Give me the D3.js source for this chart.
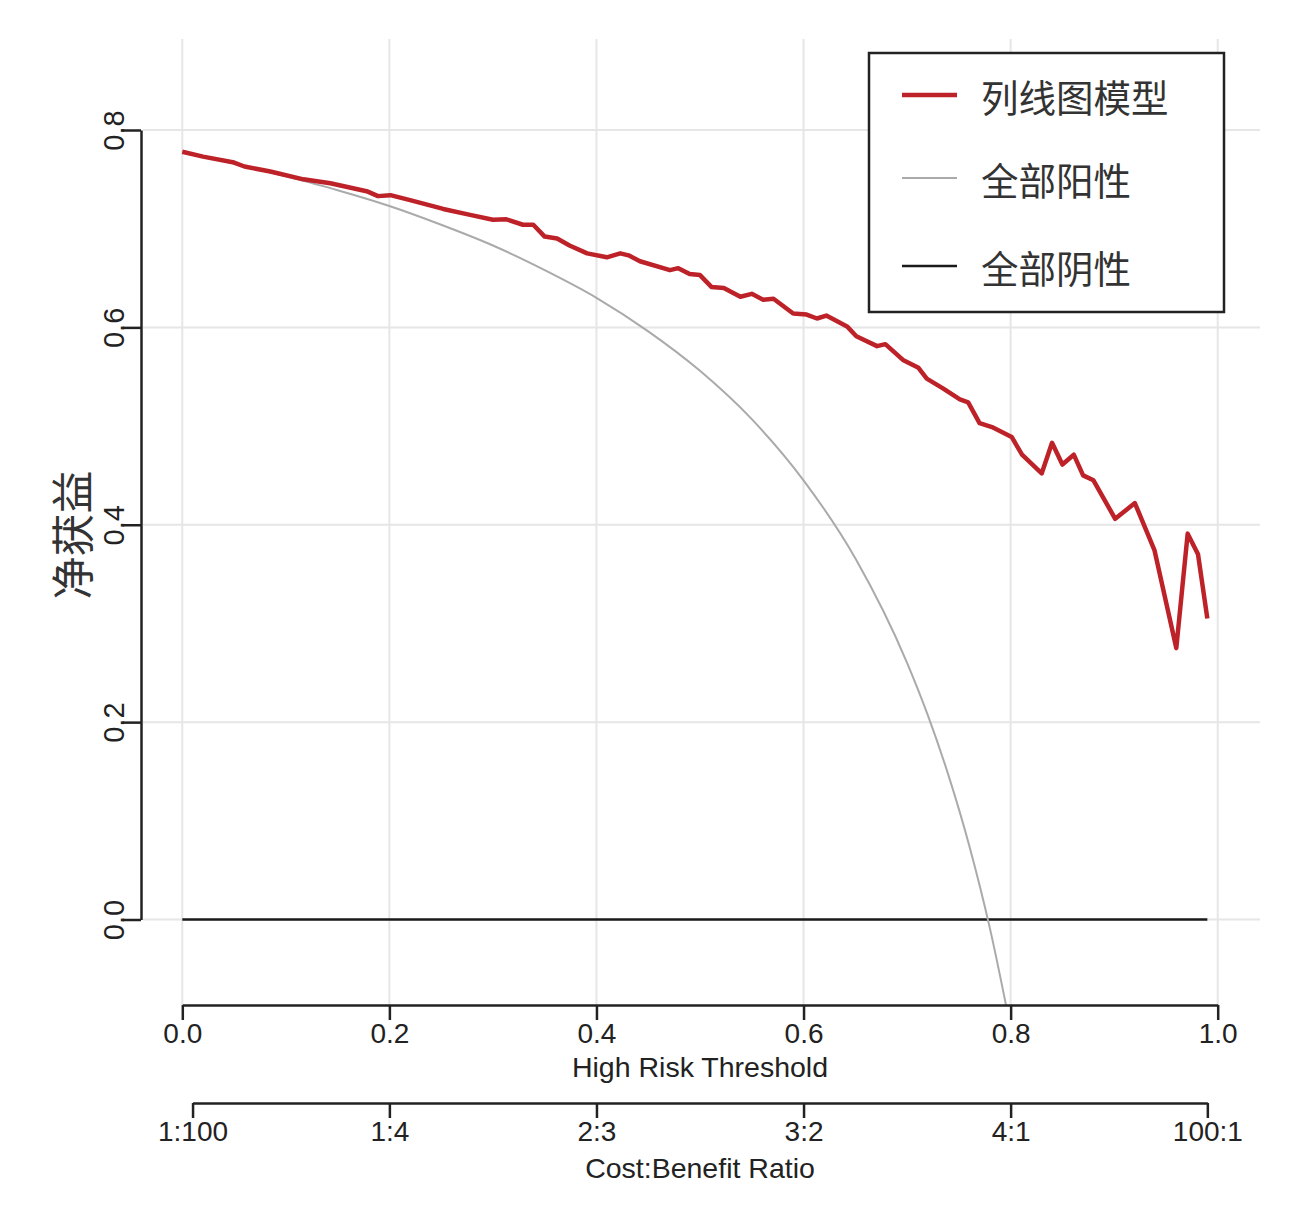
<html>
<head>
  <meta charset="utf-8">
  <title>DCA</title>
  <script src="https://d3js.org/d3.v7.min.js"></script>
  <style>
  body { margin: 0; background: #fff; }
  .grid line { stroke: #e6e6e6; stroke-width: 2px; }
  .axis path, .axis line { stroke: #222; stroke-width: 2.5px; }
  .axis text { font-family: "Liberation Sans", Arial, sans-serif; font-size: 28px; fill: #222; }
  .lab { font-family: "Liberation Sans", Arial, sans-serif; font-size: 28.5px; fill: #222; }
  .cjk { font-family: "Noto Sans CJK SC", sans-serif; fill: #333; }
  </style>
</head>
<body>
  <svg id="chart" width="1292" height="1211"></svg>
  <script>
// threshold probability / net benefit
const modelThreshold = [0, 0.02, 0.05, 0.06, 0.085, 0.117, 0.143, 0.178, 0.189, 0.201, 0.22, 0.252, 0.278, 0.30, 0.313, 0.329, 0.339, 0.35, 0.362, 0.374, 0.391, 0.41, 0.423, 0.431, 0.442, 0.471, 0.479, 0.49, 0.50, 0.511, 0.523, 0.539, 0.55, 0.561, 0.571, 0.59, 0.603, 0.613, 0.622, 0.642, 0.651, 0.671, 0.679, 0.696, 0.711, 0.719, 0.735, 0.751, 0.759, 0.77, 0.782, 0.801, 0.811, 0.83, 0.84, 0.85, 0.861, 0.87, 0.88, 0.901, 0.92, 0.939, 0.96, 0.971, 0.981, 0.99];
const modelNB = [0.778, 0.773, 0.767, 0.763, 0.758, 0.750, 0.746, 0.738, 0.733, 0.734, 0.729, 0.720, 0.714, 0.709, 0.7095, 0.704, 0.704, 0.692, 0.690, 0.683, 0.675, 0.671, 0.675, 0.673, 0.667, 0.658, 0.660, 0.654, 0.653, 0.641, 0.640, 0.631, 0.634, 0.628, 0.629, 0.614, 0.613, 0.609, 0.612, 0.601, 0.591, 0.581, 0.583, 0.567, 0.559, 0.548, 0.538, 0.527, 0.524, 0.503, 0.499, 0.489, 0.471, 0.452, 0.483, 0.461, 0.471, 0.450, 0.445, 0.406, 0.422, 0.374, 0.275, 0.391, 0.370, 0.305];

const allThreshold = [0, 0.05, 0.1, 0.15, 0.2, 0.25, 0.3, 0.35, 0.4, 0.45, 0.5, 0.55, 0.6, 0.65, 0.7, 0.72, 0.74, 0.76, 0.78, 0.8];
const allNB = [0.778, 0.766, 0.753, 0.739, 0.723, 0.704, 0.683, 0.658, 0.630, 0.596, 0.556, 0.507, 0.445, 0.366, 0.260, 0.207, 0.146, 0.075, -0.009, -0.110];

const noneThreshold = [0, 0.99];
const noneNB = [0, 0];

const xTicks = [0, 0.2, 0.4, 0.6, 0.8, 1.0];
const yTicks = [0, 0.2, 0.4, 0.6, 0.8];
const ratioTicks = [0.0099, 0.2, 0.4, 0.6, 0.8, 0.99];
const ratioLabels = ["1:100", "1:4", "2:3", "3:2", "4:1", "100:1"];
const legendLabels = ["列线图模型", "全部阳性", "全部阴性"];
const legendColors = ["#be2229", "#aaaaaa", "#1a1a1a"];
const legendWidths = [4.5, 2, 2.5];

const svg = d3.select("#chart");
const x = d3.scaleLinear().domain([0, 1]).range([182.3, 1217.7]);
const y = d3.scaleLinear().domain([0, 0.8]).range([919.5, 130]);

const panel = { left: 143, right: 1260, top: 39, bottom: 1005 };

svg.append("clipPath").attr("id", "clip")
  .append("rect")
  .attr("x", panel.left).attr("y", panel.top)
  .attr("width", panel.right - panel.left)
  .attr("height", panel.bottom - panel.top);

// grid
const grid = svg.append("g").attr("class", "grid");
grid.selectAll(".gy").data(yTicks).enter().append("line")
  .attr("x1", panel.left).attr("x2", panel.right)
  .attr("y1", d => y(d)).attr("y2", d => y(d));
grid.selectAll(".gx").data(xTicks).enter().append("line")
  .attr("y1", panel.top).attr("y2", panel.bottom)
  .attr("x1", d => x(d)).attr("x2", d => x(d));

const line = d3.line().x(d => x(d[0])).y(d => y(d[1]));
const plot = svg.append("g").attr("clip-path", "url(#clip)");

plot.append("path")
  .datum(d3.zip(noneThreshold, noneNB))
  .attr("fill", "none").attr("stroke", legendColors[2]).attr("stroke-width", legendWidths[2])
  .attr("d", line);

plot.append("path")
  .datum(d3.zip(allThreshold, allNB))
  .attr("fill", "none").attr("stroke", legendColors[1]).attr("stroke-width", legendWidths[1])
  .attr("d", line.curve(d3.curveMonotoneX));

plot.append("path")
  .datum(d3.zip(modelThreshold, modelNB))
  .attr("fill", "none").attr("stroke", legendColors[0]).attr("stroke-width", legendWidths[0])
  .attr("stroke-linejoin", "round")
  .attr("d", d3.line().x(d => x(d[0])).y(d => y(d[1])));

// axes
const xAxis = svg.append("g").attr("class", "axis")
  .attr("transform", "translate(0," + panel.bottom + ")")
  .call(d3.axisBottom(x).tickValues(xTicks).tickSize(15).tickSizeOuter(0).tickPadding(3)
    .tickFormat(d3.format(".1f")));
xAxis.selectAll("text").attr("y", 18);

const x2 = x.copy().domain([ratioTicks[0], ratioTicks[5]]).range([x(ratioTicks[0]), x(ratioTicks[5])]);
const rAxis = svg.append("g").attr("class", "axis")
  .attr("transform", "translate(0,1103)")
  .call(d3.axisBottom(x2).tickValues(ratioTicks).tickSize(15).tickSizeOuter(0)
    .tickFormat((d, i) => ratioLabels[i]));
rAxis.selectAll("text").attr("y", 18);

const yAxis = svg.append("g").attr("class", "axis")
  .attr("transform", "translate(141,0)")
  .call(d3.axisLeft(y).tickValues(yTicks).tickSize(18).tickSizeOuter(0)
    .tickFormat(d3.format(".1f")));
yAxis.selectAll("text")
  .attr("x", 0).attr("y", 0).attr("dy", 0)
  .attr("text-anchor", "middle")
  .attr("transform", "translate(-17,0) rotate(-90)")
  .style("font-size", "29px");

svg.append("text").attr("class", "lab")
  .attr("x", x(0.5)).attr("y", 1077).attr("text-anchor", "middle")
  .text("High Risk Threshold");
svg.append("text").attr("class", "lab")
  .attr("x", x(0.5)).attr("y", 1178).attr("text-anchor", "middle")
  .text("Cost:Benefit Ratio");

svg.append("text").attr("class", "cjk")
  .attr("transform", "translate(70,535) rotate(-90)")
  .attr("text-anchor", "middle").attr("dominant-baseline", "central")
  .style("font-size", "43px")
  .text("净获益");

// legend
const leg = svg.append("g");
leg.append("rect")
  .attr("x", 869).attr("y", 53).attr("width", 355).attr("height", 259)
  .attr("fill", "#fff").attr("stroke", "#222").attr("stroke-width", 2.5);
const rowY = [95, 178, 266];
const items = leg.selectAll(".item").data(legendLabels).enter().append("g")
  .attr("transform", (d, i) => "translate(0," + rowY[i] + ")");
items.append("line")
  .attr("x1", 902).attr("x2", 957).attr("y1", 0).attr("y2", 0)
  .attr("stroke", (d, i) => legendColors[i])
  .attr("stroke-width", (d, i) => legendWidths[i]);
items.append("text").attr("class", "cjk")
  .attr("x", 981).attr("y", 0).attr("dominant-baseline", "central")
  .style("font-size", "37.5px")
  .text(d => d);
  </script>
</body>
</html>
